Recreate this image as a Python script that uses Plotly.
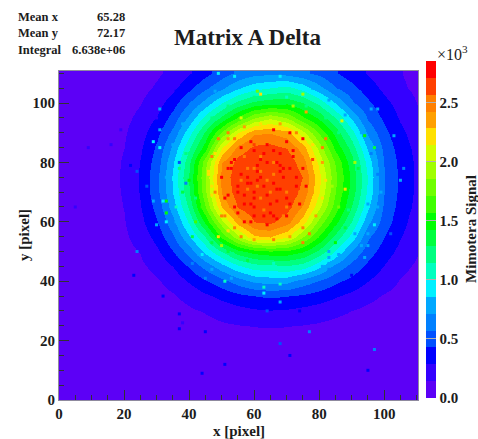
import plotly.graph_objects as go

TITLE = "Matrix A Delta"
STATS = [("Mean x", "65.28"), ("Mean y", "72.17"), ("Integral", "6.638e+06")]
TICK_VALS = [0, 500, 1000, 1500, 2000, 2500]
TICK_TEXT = ["0.0", "0.5", "1.0", "1.5", "2.0", "2.5"]

GRID_X = [0, 5, 10, 15, 20, 25, 30, 35, 40, 45, 50, 55, 60, 65, 70, 75, 80, 85, 90, 95, 100, 105, 110]
GRID_Y = [110, 105, 100, 95, 90, 85, 80, 75, 70, 65, 60, 55, 50, 45, 40, 35, 30, 25, 20, 15, 10, 5, 0]
SIGNAL = [
 [30,34,42,50,65,87,125,180,270,380,500,600,660,680,660,600,530,440,350,270,200,150,95],
 [31,38,46,58,80,105,160,250,390,540,690,840,945,1000,1045,940,765,580,470,355,250,165,115],
 [33,40,50,68,95,135,220,370,570,770,1000,1190,1325,1380,1395,1285,1100,855,595,455,330,225,140],
 [36,44,56,78,110,175,300,490,750,1050,1330,1600,1850,1980,1850,1600,1400,1150,830,550,400,270,170],
 [38,47,62,87,128,220,390,620,950,1310,1750,2150,2400,2420,2350,2050,1700,1385,1050,685,470,325,205],
 [40,48,66,95,142,260,460,750,1120,1500,2150,2480,2600,2620,2560,2350,1950,1540,1220,830,530,365,240],
 [41,49,69,98,155,290,500,840,1245,1800,2420,2620,2680,2690,2660,2480,2100,1700,1330,935,565,390,255],
 [41,50,70,100,160,300,540,880,1300,1850,2480,2650,2690,2690,2690,2560,2180,1750,1380,980,580,400,260],
 [41,50,70,100,155,295,530,865,1270,1820,2450,2640,2690,2690,2680,2520,2150,1720,1355,965,575,395,255],
 [40,48,67,95,146,275,480,790,1170,1700,2300,2580,2670,2680,2620,2400,2030,1650,1270,880,545,375,240],
 [39,47,64,90,135,240,420,670,1020,1450,1950,2350,2560,2600,2480,2200,1800,1480,1120,745,500,345,200],
 [36,45,58,82,120,195,335,550,835,1130,1600,1950,2250,2280,2150,1850,1550,1240,930,590,430,295,175],
 [34,42,53,72,100,146,255,420,620,880,1130,1350,1470,1520,1510,1420,1230,980,680,490,355,240,150],
 [32,38,47,62,85,120,180,290,445,620,810,975,1080,1100,1130,1075,900,670,520,390,280,175,125],
 [30,36,43,52,70,93,130,190,300,410,520,640,740,770,760,650,560,460,380,285,205,135,100],
 [30,32,38,45,58,75,97,130,180,255,325,385,425,450,430,400,360,300,240,180,130,100,70],
 [30,30,33,40,48,60,77,95,122,150,190,230,260,275,265,240,210,175,140,105,85,65,50],
 [30,30,30,35,42,48,60,72,88,102,122,135,145,148,145,135,122,102,88,72,60,48,42],
 [30,30,30,30,36,42,47,56,66,76,85,92,98,100,98,92,85,76,66,56,47,42,36],
 [30,30,30,30,30,33,36,40,45,50,55,60,65,68,65,60,55,50,45,40,36,33,30],
 [30,30,30,30,30,30,30,32,35,38,41,44,46,47,46,44,41,38,35,32,30,30,30],
 [30,30,30,30,30,30,30,30,30,32,33,35,36,36,36,35,33,32,30,30,30,30,30],
 [30,30,30,30,30,30,30,30,30,30,30,30,30,30,30,30,30,30,30,30,30,30,30],
]

# Individual pixels that stand out from their surroundings.
HOT_X = [66,71,75,70,59,54,49,52,82,81,53,50,47,78,63,57,54,67,72,51,
         60,62,64,66,68,58,56,61,65,69,55,59,63,67,71,73,57,61,64,68,
         52,54,58,62,66,70,74,56,60,64,68,72,53,59,63,69,65,61,57,67,
         49,77,75,47,79,46,84,86,44,42,56,72,61,76,50,83,
         29,31,33,31,49,54,31,29,33,32,33,30,24,51,41,44,41,45,
         83,83,83,83,94,97,98,95,93,95,84,85,88,99,
         80,98,96,87,94,97,103,106,105,95,
         68,63,63,68,77,97,95,71,68,
         23,32,37,38,37,44,51,45,
         9,16,19,24,22,24,5,22,37,39,62,75,40,88,91,
         48,49,50,52,56,60,66,71,75,79,81,82,81,78,73,68,62,57,52,48,46,47,
         54,52,51,55,60,70,74,76,75,72,66,60,58,62,66,70,60,56,
         40,42,38,44,47,52,58,66,73,80,85,89,92,92,90,86,82,76,70,60,52,47,43,39,37,36,
         33,34,36,39,43,47,53,60,68,75,81,86,91,95,97,98,96,93,88,83,78,68,58,48,42,38,35,32,
         27,28,31,36,41,47,55,64,74,82,90,96,102,105,108,107,103,96,90,42,36,30,26,23,
         62,63,60,58,66,64,70,68,55,57,59,61,65,67,69,71,73,62,64,60]
HOT_Y = [91,90,88,87,87,88,88,90,88,85,80,75,82,81,62,60,58,61,64,62,
         84,82,86,80,83,78,76,72,70,75,70,66,64,67,78,72,82,79,74,71,
         69,65,73,77,62,65,70,85,68,59,77,82,78,60,83,62,66,74,69,80,
         55,56,53,69,68,77,72,65,65,60,95,99,104,97,52,78,
         87,85,67,91,110,109,98,67,63,67,60,59,50,40,55,49,46,41,
         50,48,46,44,48,59,65,56,52,52,50,53,58,70,
         107,98,98,94,89,85,89,78,74,66,
         33,38,36,39,23,17,10,15,19,
         42,35,29,26,24,9,12,23,
         85,86,91,95,79,77,65,55,80,73,103,103,83,71,80,
         70,66,62,57,55,54,54,55,58,62,68,74,80,86,90,93,93,92,88,83,76,72,
         81,78,68,63,62,62,66,72,78,84,84,86,71,68,76,70,78,74,
         74,68,70,60,53,50,47,46,48,52,58,64,70,78,84,90,95,99,102,102,99,95,89,83,78,65,
         75,68,60,54,49,44,41,39,38,41,45,49,56,62,68,76,83,90,96,101,105,109,108,104,99,93,86,80,
         72,64,55,48,41,36,33,30,30,35,42,45,56,64,72,84,94,104,108,108,104,95,84,70,
         75,72,70,75,73,69,68,79,72,66,73,77,63,71,78,66,75,81,80,65]
HOT_V = [2800,2800,2800,2800,2800,2500,2450,2500,2450,2450,2800,2800,2450,2700,2800,2800,2500,2800,2500,2500,
         2800,2450,2800,2450,2800,2450,2800,2450,2450,2800,2800,2800,2450,2800,2800,2800,2450,2800,2450,2800,
         2800,2800,2800,2500,2800,2450,2500,2800,2800,2800,2800,2800,2800,2800,2800,2450,2800,2800,2800,2800,
         2250,2450,2450,2200,2250,2200,1900,1750,1700,1600,2100,1950,1750,2350,1900,1950,
         900,950,1500,750,900,950,750,800,1550,950,950,800,700,1000,1400,950,700,650,
         800,750,750,700,800,950,800,750,750,750,1000,1500,1400,750,
         700,750,750,2050,1450,1400,750,650,750,800,
         800,1000,950,1000,650,700,400,380,450,
         320,350,340,280,300,350,320,300,
         160,150,170,170,400,450,170,160,500,700,2200,1950,1250,2250,1950,
         2500,2200,2450,2250,2450,2400,2500,2300,2500,2400,2150,2250,2350,2200,2450,2300,2200,2350,2300,2200,2200,2250,
         2800,2800,2750,2750,2750,2750,2750,2750,2750,2750,2750,2600,2500,2500,2500,2500,2500,2500,
         1450,1200,1300,1350,1300,1400,1300,1050,1300,1300,1400,1200,1250,1300,1150,1150,1200,1250,1050,1200,1250,1200,1200,1250,1200,1000,
         750,850,800,800,750,800,850,700,700,800,850,800,750,800,800,700,700,750,800,750,800,900,800,750,700,750,800,700,
         430,380,400,350,350,350,400,430,380,300,320,300,430,400,350,320,300,320,320,320,300,280,400,220,
         2800,2800,2800,2800,2800,2800,2800,2800,2800,2800,2800,2800,2800,2800,2800,2800,2800,2800,2800,2800]

CONTOUR_COLORS = ["#5c00f6","#3400ff","#0000ff","#0050ff","#0080ff","#00a8ff","#00f0ff","#00ffc0","#00ff80","#00ff40",
                  "#00ff00","#40ff00","#70ff00","#a0ff00","#d0ff00","#ffe000","#ffa000","#ff8000","#ff4000","#ff0000"]
Z_MAX = 2850

scale = []
for i, c in enumerate(CONTOUR_COLORS):
    scale += [[i / 20, c], [(i + 1) / 20, c]]

FONT = "Liberation Serif"
INK = "#1c1c1c"
PAPER_W = 419  # width inside the margins, in px; the colour bar lives inside it

fig = go.Figure()
fig.add_trace(go.Heatmap(x=GRID_X, y=GRID_Y, z=SIGNAL, coloraxis="coloraxis", zsmooth="best", hoverinfo="skip"))
fig.add_trace(go.Scatter(x=HOT_X, y=HOT_Y, mode="markers", hoverinfo="skip", showlegend=False,
                         marker=dict(symbol="square", size=3, line=dict(width=0), color=HOT_V, coloraxis="coloraxis")))

axis = dict(ticks="inside", tickcolor="#333333", tickwidth=1, showgrid=False, zeroline=False,
            showline=True, linecolor="#8f8a9e", linewidth=1, mirror=True,
            tickfont=dict(family=FONT, size=15, color=INK, weight="bold"))
fig.update_layout(
    width=478, height=439, autosize=False,
    paper_bgcolor="white", plot_bgcolor="#5c00f6",
    margin=dict(l=59, r=0, t=71, b=39),
    showlegend=False,
    xaxis=dict(axis, domain=[0, 359 / PAPER_W], range=[0, 110.4], tickmode="array", tickvals=[0, 20, 40, 60, 80, 100], ticklen=10,
               minor=dict(ticks="inside", ticklen=5, dtick=5, tickcolor="#333333", tickwidth=1)),
    yaxis=dict(axis, range=[0, 110.8], tickmode="array", tickvals=[0, 20, 40, 60, 80, 100], ticklen=10,
               minor=dict(ticks="inside", ticklen=5, dtick=5, tickcolor="#333333", tickwidth=1)),
    coloraxis=dict(cmin=0, cmax=Z_MAX, colorscale=scale,
                   colorbar=dict(x=(426 - 59) / PAPER_W, xanchor="left", xpad=0, y=0.006, yanchor="bottom", ypad=0,
                                 len=337, lenmode="pixels", thickness=10, thicknessmode="pixels",
                                 outlinewidth=0, ticks="inside", ticklen=10, tickcolor="#b0b0b0", tickwidth=1,
                                 tickmode="array", tickvals=TICK_VALS, ticktext=TICK_TEXT,
                                 tickfont=dict(family=FONT, size=15, color=INK, weight="bold"))),
)

def label(text, px, py, size=12, anchor="left", bold=True, angle=0):
    fig.add_annotation(xref="paper", yref="paper", x=(px - 59) / PAPER_W, y=(400 - py) / 329,
                       text=f"<b>{text}</b>" if bold else text, showarrow=False,
                       xanchor=anchor, yanchor="middle", textangle=angle, align=anchor,
                       borderpad=0, font=dict(family=FONT, size=size, color=INK))

label(TITLE, 247, 37, size=23, anchor="center")
for (name, value), py in zip(STATS, [17, 33, 50]):
    label(name, 17, py, size=12.5)
    label(value, 126, py, size=12.5, anchor="right")
label("x [pixel]", 239, 431, size=15, anchor="center")
label("y [pixel]", 24, 235, size=15, anchor="center", angle=-90)
label("Mimotera Signal", 471, 229, size=15, anchor="center", angle=-90)
label("×10<sup>3</sup>", 436, 53, size=16, bold=False)

fig.write_html("out.html", config={"displayModeBar": False}, post_script="document.body.style.margin='0';")
